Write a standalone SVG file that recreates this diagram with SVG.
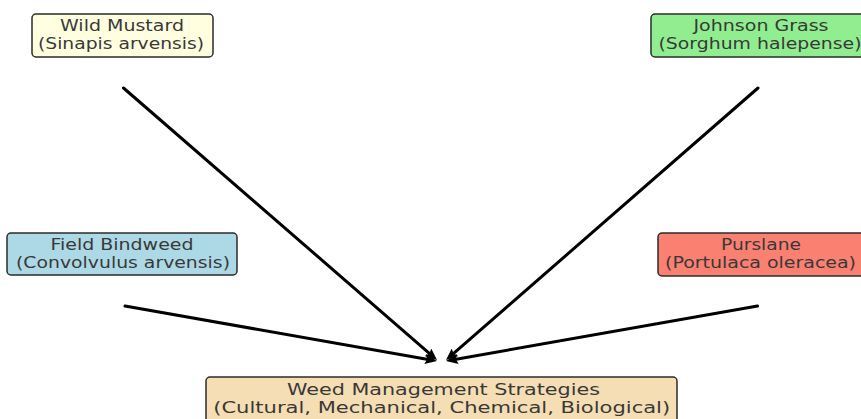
<svg xmlns="http://www.w3.org/2000/svg" width="861" height="419" viewBox="0 0 861 419">
<style>
  .box { stroke: #2b2b2b; stroke-width: 1.5; }
  .t { font-family: "DejaVu Sans", "Liberation Sans", sans-serif; font-size: 16.5px; fill: #383838; text-anchor: middle; }
  .c { stroke: #000000; stroke-width: 3; fill: none; stroke-linecap: round; }
</style>
<defs>
  <marker id="ah" viewBox="0 0 12 10" refX="6" refY="5" markerWidth="13" markerHeight="10" markerUnits="userSpaceOnUse" orient="auto">
    <path d="M0,0 L12,5 L0,10 L2,5 z" fill="#000000"/>
  </marker>
</defs>
<rect width="861" height="419" fill="#ffffff"/>
<g id="connectors">
  <line class="c" x1="123.5" y1="88" x2="432.5" y2="356.1" marker-end="url(#ah)"/>
  <line class="c" x1="758" y1="88" x2="450.5" y2="356.1" marker-end="url(#ah)"/>
  <line class="c" x1="125" y1="306" x2="431.1" y2="360" marker-end="url(#ah)"/>
  <line class="c" x1="757.5" y1="306" x2="451.9" y2="360" marker-end="url(#ah)"/>
</g>
<g id="wild-mustard">
  <rect class="box" x="32" y="14" width="181" height="43" rx="4" fill="#FFFFE0"/>
  <text class="t" x="122" y="31" textLength="124" lengthAdjust="spacingAndGlyphs">Wild Mustard</text>
  <text class="t" x="121" y="49" textLength="166" lengthAdjust="spacingAndGlyphs">(Sinapis arvensis)</text>
</g>
<g id="johnson-grass">
  <rect class="box" x="651" y="14" width="220" height="43" rx="4" fill="#90EE90"/>
  <text class="t" x="761" y="31" textLength="135" lengthAdjust="spacingAndGlyphs">Johnson Grass</text>
  <text class="t" x="760" y="49" textLength="203" lengthAdjust="spacingAndGlyphs">(Sorghum halepense)</text>
</g>
<g id="field-bindweed">
  <rect class="box" x="7" y="233" width="230" height="42" rx="4" fill="#ADD8E6"/>
  <text class="t" x="122" y="250" textLength="143" lengthAdjust="spacingAndGlyphs">Field Bindweed</text>
  <text class="t" x="123" y="268" textLength="214" lengthAdjust="spacingAndGlyphs">(Convolvulus arvensis)</text>
</g>
<g id="purslane">
  <rect class="box" x="658" y="233" width="206" height="43" rx="4" fill="#FA8072"/>
  <text class="t" x="761" y="250" textLength="80" lengthAdjust="spacingAndGlyphs">Purslane</text>
  <text class="t" x="760.5" y="268" textLength="191" lengthAdjust="spacingAndGlyphs">(Portulaca oleracea)</text>
</g>
<g id="weed-management">
  <rect class="box" x="206" y="377" width="471" height="50" rx="4" fill="#F5DEB3"/>
  <text class="t" x="443.5" y="395" textLength="313" lengthAdjust="spacingAndGlyphs">Weed Management Strategies</text>
  <text class="t" x="441.7" y="413" textLength="457" lengthAdjust="spacingAndGlyphs">(Cultural, Mechanical, Chemical, Biological)</text>
</g>
</svg>
